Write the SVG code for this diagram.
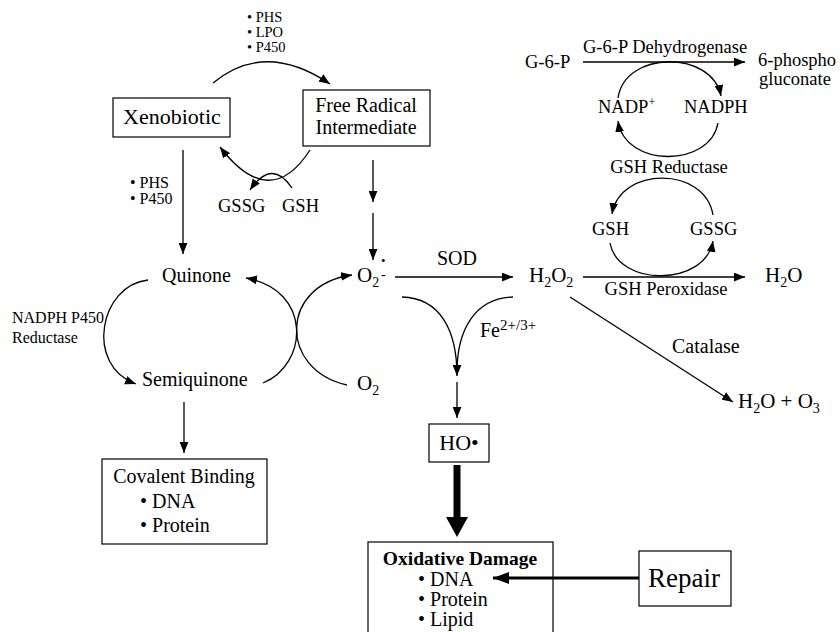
<svg xmlns="http://www.w3.org/2000/svg" width="840" height="632" viewBox="0 0 840 632">
<defs>
<style>
text{font-family:"Liberation Serif","Times New Roman",serif;fill:#000;}
.m{font-size:20px;}
.c{font-size:18.5px;}
.s{font-size:16px;}
.t{font-size:14.5px;}
.box{fill:none;stroke:#000;stroke-width:1.2;}
.ln{fill:none;stroke:#000;stroke-width:1.3;}
.mid{text-anchor:middle;}
</style>
<marker id="ah" viewBox="0 0 10 8" refX="10" refY="4" markerWidth="11" markerHeight="9" orient="auto" markerUnits="userSpaceOnUse"><path d="M0,0 L10,4 L0,8 z" fill="#000"/></marker>
<marker id="ahb" viewBox="0 0 16 12" refX="16" refY="6" markerWidth="16" markerHeight="12" orient="auto" markerUnits="userSpaceOnUse"><path d="M0,0 L16,6 L0,12 z" fill="#000"/></marker>
</defs>
<rect width="840" height="632" fill="#fff"/>

<g id="connectors">
<path class="ln" d="M213,83 Q265,40 330,84" marker-end="url(#ah)"/>
<path class="ln" d="M310,150 Q270,212 220,147" marker-end="url(#ah)"/>
<path class="ln" d="M292,188 Q272,158 250,190" marker-end="url(#ah)"/>
<path class="ln" d="M183,150 L183,254" marker-end="url(#ah)"/>
<path class="ln" d="M373,160 L373,202" marker-end="url(#ah)"/>
<path class="ln" d="M373,213 L373,260" marker-end="url(#ah)"/>
<path class="ln" d="M148,280 C100,285 84,365 136,384" marker-end="url(#ah)"/>
<path class="ln" d="M263,383 C308,365 313,290 246,278" marker-end="url(#ah)"/>
<path class="ln" d="M347,385 C279,370 279,285 352,275" marker-end="url(#ah)"/>
<path class="ln" d="M395,277 L513,277" marker-end="url(#ah)"/>
<path class="ln" d="M402,297 C440,298 457,330 457,376" marker-end="url(#ah)"/>
<path class="ln" d="M513,297 C475,298 457,330 457,372"/>
<path class="ln" d="M457,382 L457,418" marker-end="url(#ah)"/>
<rect x="453.5" y="465" width="7" height="53" fill="#000"/>
<path d="M446,517 L468,517 L457,537 z" fill="#000"/>
<path class="ln" d="M184,402 L184,453" marker-end="url(#ah)"/>
<path fill="none" stroke="#000" stroke-width="3" d="M639,578 L493,578" marker-end="url(#ahb)"/>
<path class="ln" d="M583,277 L745,277" marker-end="url(#ah)"/>
<path class="ln" d="M570,297 L733,402" marker-end="url(#ah)"/>
<path class="ln" d="M583,62 L745,62" marker-end="url(#ah)"/>
<path class="ln" d="M618,98 C625,50 712,50 721,96" marker-end="url(#ah)"/>
<path class="ln" d="M718,123 C710,168 625,168 618,121" marker-end="url(#ah)"/>
<path class="ln" d="M713,215 C705,166 620,166 612,214" marker-end="url(#ah)"/>
<path class="ln" d="M610,243 C618,287 705,287 713,241" marker-end="url(#ah)"/>
</g>

<g id="labels">
<text class="t" x="247" y="22">• PHS</text>
<text class="t" x="247" y="37">• LPO</text>
<text class="t" x="247" y="52">• P450</text>
<text class="s" x="130" y="188">• PHS</text>
<text class="s" x="130" y="204">• P450</text>
<text class="s" x="12" y="323">NADPH P450</text>
<text class="s" x="12" y="343">Reductase</text>
<text class="m mid" x="457" y="265">SOD</text>
<text class="m" x="480" y="337">Fe<tspan font-size="15" dy="-7">2+/3+</tspan></text>
<text class="c" x="583" y="53">G-6-P Dehydrogenase</text>
<text class="c mid" x="669" y="173">GSH Reductase</text>
<text class="c mid" x="666" y="295">GSH Peroxidase</text>
<text class="m" x="672" y="353">Catalase</text>
</g>

<g id="xenobiotic"><rect class="box" x="113" y="98" width="117" height="39"/><text class="mid" style="font-size:22px" x="172" y="124">Xenobiotic</text></g>
<g id="free-radical"><rect class="box" x="303" y="90" width="127" height="56"/><text class="m mid" x="366" y="112">Free Radical</text><text class="m mid" x="366" y="134">Intermediate</text></g>
<g id="gssg-left"><text class="c" x="218" y="212">GSSG</text></g>
<g id="gsh-left"><text class="c" x="282" y="212">GSH</text></g>
<g id="quinone"><text class="m" x="162" y="282">Quinone</text></g>
<g id="semiquinone"><text class="m" x="142" y="386">Semiquinone</text></g>
<g id="superoxide"><text class="m" style="font-size:21px" x="357" y="282">O<tspan font-size="14" dy="5">2</tspan></text><text style="font-size:13px" x="381" y="265">•</text><text style="font-size:14px" x="381" y="279">-</text></g>
<g id="o2"><text class="m" style="font-size:21px" x="357" y="390">O<tspan font-size="14" dy="5">2</tspan></text></g>
<g id="h2o2"><text class="m" style="font-size:21px" x="529" y="282">H<tspan font-size="14" dy="5">2</tspan><tspan dy="-5">O</tspan><tspan font-size="14" dy="5">2</tspan></text></g>
<g id="h2o"><text class="m" style="font-size:21px" x="765" y="282">H<tspan font-size="14" dy="5">2</tspan><tspan dy="-5">O</tspan></text></g>
<g id="h2o-o3"><text class="m" style="font-size:21px" x="738" y="408">H<tspan font-size="14" dy="5">2</tspan><tspan dy="-5">O + O</tspan><tspan font-size="14" dy="5">3</tspan></text></g>
<g id="g6p"><text class="c" x="525" y="68">G-6-P</text></g>
<g id="phosphogluconate"><text class="c" x="758" y="66">6-phospho</text><text class="c" x="759" y="85">gluconate</text></g>
<g id="nadp"><text class="c" x="598" y="113">NADP<tspan font-size="12" dy="-7">+</tspan></text></g>
<g id="nadph"><text class="c" x="684" y="113">NADPH</text></g>
<g id="gsh-right"><text class="c" x="592" y="235">GSH</text></g>
<g id="gssg-right"><text class="c" x="690" y="235">GSSG</text></g>
<g id="hydroxyl"><rect class="box" x="429" y="424" width="60" height="38"/><text class="mid" style="font-size:22px" x="459" y="450">HO•</text></g>
<g id="covalent-binding"><rect class="box" x="102" y="459" width="165" height="85"/><text class="m mid" x="184" y="483">Covalent Binding</text><text class="m" x="140" y="508">• DNA</text><text class="m" x="140" y="532">• Protein</text></g>
<g id="oxidative-damage"><rect class="box" x="368" y="542" width="185" height="100"/><text class="mid" style="font-size:19.5px;font-weight:bold" x="460" y="565">Oxidative Damage</text><text class="m" x="418" y="586">• DNA</text><text class="m" x="418" y="606">• Protein</text><text class="m" x="418" y="626">• Lipid</text></g>
<g id="repair"><rect class="box" x="639" y="551" width="92" height="55"/><text style="font-size:27px" x="648" y="587">Repair</text></g>
</svg>
